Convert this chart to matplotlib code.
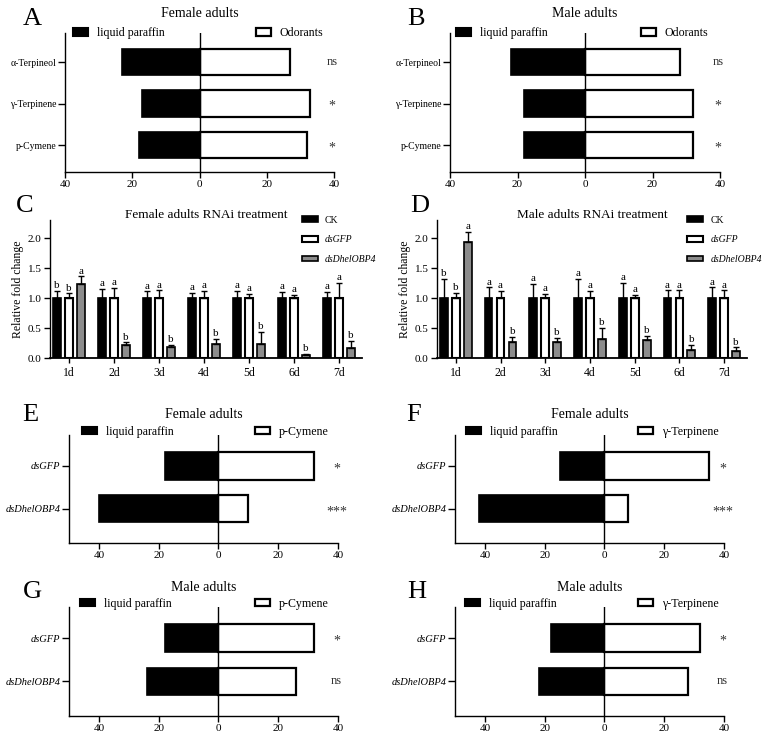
import numpy as np
import matplotlib
matplotlib.use("Agg")
import matplotlib.pyplot as plt
from matplotlib.patches import Patch

plt.rcParams["font.family"] = ["Liberation Serif", "DejaVu Serif"]
plt.rcParams["axes.linewidth"] = 1.0

W, H = 774, 742

# ---- two-choice panels (A, B) ----
odor_cats = ["p-Cymene", "γ-Terpinene", "α-Terpineol"]
a_paraffin = [18, 17, 23]
a_odor = [32, 33, 27]
a_sig = ["*", "*", "ns"]
b_paraffin = [18, 18, 22]
b_odor = [32, 32, 28]
b_sig = ["*", "*", "ns"]

# ---- RNAi panels (E-H) ----
rnai_cats = ["dsDhelOBP4", "dsGFP"]
e_paraffin = [40, 18]
e_odor = [10, 32]
e_sig = ["***", "*"]
f_paraffin = [42, 15]
f_odor = [8, 35]
f_sig = ["***", "*"]
g_paraffin = [24, 18]
g_odor = [26, 32]
g_sig = ["ns", "*"]
h_paraffin = [22, 18]
h_odor = [28, 32]
h_sig = ["ns", "*"]

# ---- qPCR panels (C, D) ----
days = ["1d", "2d", "3d", "4d", "5d", "6d", "7d"]
groups = ["CK", "dsGFP", "dsDhelOBP4"]
c_ck = [1, 1, 1, 1, 1, 1, 1]
c_ck_err = [0.12, 0.15, 0.11, 0.09, 0.12, 0.10, 0.10]
c_gfp = [1, 1, 1, 1, 1, 1, 1]
c_gfp_err = [0.08, 0.17, 0.13, 0.12, 0.07, 0.05, 0.25]
c_obp = [1.23, 0.21, 0.18, 0.23, 0.23, 0.05, 0.17]
c_obp_err = [0.13, 0.05, 0.04, 0.09, 0.21, 0.02, 0.12]
c_letters = [["b", "b", "a"]] + [["a", "a", "b"]] * 6

d_ck = [1, 1, 1, 1, 1, 1, 1]
d_ck_err = [0.32, 0.18, 0.24, 0.32, 0.25, 0.13, 0.18]
d_gfp = [1, 1, 1, 1, 1, 1, 1]
d_gfp_err = [0.09, 0.12, 0.07, 0.12, 0.05, 0.13, 0.13]
d_obp = [1.93, 0.27, 0.26, 0.31, 0.30, 0.14, 0.12]
d_obp_err = [0.17, 0.08, 0.08, 0.19, 0.07, 0.08, 0.06]
d_letters = [["b", "b", "a"]] + [["a", "a", "b"]] * 6


def add_axes_px(fig, left, top, right, bottom):
    return fig.add_axes([left / W, 1 - bottom / H, (right - left) / W, (bottom - top) / H])


def choice_panel(ax, cats, paraffin, odor, sig, odor_label, title, xlim, ylim,
                 italic=False, leg_x=(0.03, 0.71), leg_y=1.0, title_y=1.14):
    pos = np.arange(len(cats))
    ax.barh(pos, -np.array(paraffin), height=0.64, color="black", edgecolor="black", lw=1.2)
    ax.barh(pos, odor, height=0.64, color="white", edgecolor="black", lw=1.6)
    ax.axvline(0, color="black", lw=1.0)
    ax.set_xlim(*xlim)
    ax.set_ylim(*ylim)
    ax.set_yticks(pos)
    ax.set_yticklabels(cats, fontsize=7.5 if italic else 7,
                       style="italic" if italic else "normal")
    ax.set_xticks([-40, -20, 0, 20, 40])
    ax.set_xticklabels(["40", "20", "0", "20", "40"], fontsize=8)
    ax.tick_params(axis="y", length=5, width=1, pad=1)
    ax.tick_params(axis="x", length=4, width=1, pad=2)
    for s in ["top", "right"]:
        ax.spines[s].set_visible(False)
    for p, s in zip(pos, sig):
        if "*" in s:
            ax.text(39.5, p - 0.07, s, ha="center", va="center", fontsize=10, color="#333333")
        else:
            ax.text(39.5, p, s, ha="center", va="center", fontsize=9, color="#333333")
    ax.text(0.5, title_y, title, transform=ax.transAxes, ha="center", va="center", fontsize=10)

    kw = dict(loc="center left", frameon=False, fontsize=8.6, handlelength=1.25,
              handleheight=0.6, handletextpad=0.75, borderpad=0, borderaxespad=0)
    leg1 = ax.legend(handles=[Patch(facecolor="black", edgecolor="black", lw=1.5,
                                    label="liquid paraffin")],
                     bbox_to_anchor=(leg_x[0], leg_y), **kw)
    ax.add_artist(leg1)
    ax.legend(handles=[Patch(facecolor="white", edgecolor="black", lw=1.6, label=odor_label)],
              bbox_to_anchor=(leg_x[1], leg_y), **kw)


def qpcr_panel(ax, ck, ck_err, gfp, gfp_err, obp, obp_err, letters, title):
    x = np.arange(len(days))
    off = 0.267
    w = 0.175
    series = [(ck, ck_err, "black", 1.2), (gfp, gfp_err, "white", 1.5), (obp, obp_err, "#8c8c8c", 1.2)]
    for i, (vals, err, col, lw) in enumerate(series):
        xi = x + (i - 1) * off
        vals = np.array(vals, dtype=float)
        err = np.array(err, dtype=float)
        ax.bar(xi, vals, width=w, color=col, edgecolor="black", lw=lw, label=groups[i],
               yerr=[np.zeros_like(err), err],
               error_kw=dict(ecolor="black", elinewidth=1, capsize=2.2, capthick=1))
        for j in range(len(days)):
            ax.annotate(letters[j][i], (xi[j], vals[j] + err[j]), xytext=(0, 0.5),
                        textcoords="offset points", ha="center", va="bottom", fontsize=8)
    ax.set_xlim(-0.42, 6.51)
    ax.set_ylim(0, 2.3)
    ax.set_yticks([0, 0.5, 1.0, 1.5, 2.0])
    ax.set_yticklabels(["0.0", "0.5", "1.0", "1.5", "2.0"], fontsize=8)
    ax.set_xticks(x)
    ax.set_xticklabels(days, fontsize=8.5)
    ax.tick_params(axis="x", length=3.5, width=1, pad=3)
    ax.tick_params(axis="y", length=4, width=1, pad=2)
    ax.set_ylabel("Relative fold change", fontsize=8.5, labelpad=3)
    for s in ["top", "right"]:
        ax.spines[s].set_visible(False)
    ax.spines["bottom"].set_linewidth(1.3)
    ax.text(0.5, 1.035, title, transform=ax.transAxes, ha="center", va="center", fontsize=9.5)
    leg = ax.legend(loc="upper left", bbox_to_anchor=(0.808, 1.032), frameon=False,
                    fontsize=7.0, handlelength=1.6, handleheight=0.5, handletextpad=0.75,
                    labelspacing=1.1, borderpad=0, borderaxespad=0)
    for t in leg.get_texts()[1:]:
        t.set_style("italic")


fig = plt.figure(figsize=(W / 100, H / 100), dpi=100)

axA = add_axes_px(fig, 65, 33, 334, 172)
choice_panel(axA, odor_cats, a_paraffin, a_odor, a_sig, "Odorants", "Female adults",
             (-40, 40), (-0.65, 2.7), leg_x=(0.03, 0.71), leg_y=1.0, title_y=1.137)
axB = add_axes_px(fig, 450, 33, 720, 172)
choice_panel(axB, odor_cats, b_paraffin, b_odor, b_sig, "Odorants", "Male adults",
             (-40, 40), (-0.65, 2.7), leg_x=(0.022, 0.707), leg_y=1.0, title_y=1.137)

axC = add_axes_px(fig, 50, 220, 362, 358)
qpcr_panel(axC, c_ck, c_ck_err, c_gfp, c_gfp_err, c_obp, c_obp_err, c_letters,
           "Female adults RNAi treatment")
axD = add_axes_px(fig, 437, 220, 747, 358)
qpcr_panel(axD, d_ck, d_ck_err, d_gfp, d_gfp_err, d_obp, d_obp_err, d_letters,
           "Male adults RNAi treatment")

axE = add_axes_px(fig, 69, 435, 338, 543)
choice_panel(axE, rnai_cats, e_paraffin, e_odor, e_sig, "p-Cymene", "Female adults",
             (-50, 40), (-0.8, 1.72), italic=True, leg_x=(0.048, 0.69), leg_y=1.03, title_y=1.19)
axF = add_axes_px(fig, 455, 435, 724, 543)
choice_panel(axF, rnai_cats, f_paraffin, f_odor, f_sig, "γ-Terpinene", "Female adults",
             (-50, 40), (-0.8, 1.72), italic=True, leg_x=(0.04, 0.68), leg_y=1.03, title_y=1.19)
axG = add_axes_px(fig, 69, 607, 338, 716)
choice_panel(axG, rnai_cats, g_paraffin, g_odor, g_sig, "p-Cymene", "Male adults",
             (-50, 40), (-0.8, 1.72), italic=True, leg_x=(0.04, 0.69), leg_y=1.03, title_y=1.18)
axH = add_axes_px(fig, 455, 607, 724, 716)
choice_panel(axH, rnai_cats, h_paraffin, h_odor, h_sig, "γ-Terpinene", "Male adults",
             (-50, 40), (-0.8, 1.72), italic=True, leg_x=(0.037, 0.68), leg_y=1.03, title_y=1.18)

for letter, (px, py) in {"A": (32, 19), "B": (416, 19), "C": (25, 206), "D": (420, 206),
                         "E": (30, 415), "F": (414, 415), "G": (32, 592), "H": (417, 592)}.items():
    fig.text(px / W, 1 - py / H, letter, ha="center", va="center", fontsize=19)

fig.savefig("out.png", dpi=100)
